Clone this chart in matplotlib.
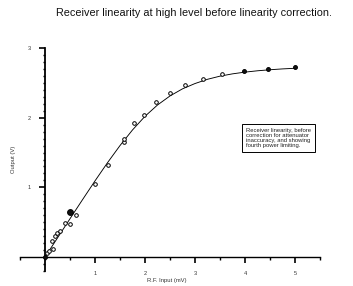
import numpy as np
import matplotlib
matplotlib.use("Agg")
import matplotlib.pyplot as plt
from matplotlib.ticker import MultipleLocator

plt.rcParams['font.family'] = ['Liberation Sans', 'DejaVu Sans']

# mért pontok (üres karika)
x_open = [0.03, 0.07, 0.15, 0.13, 0.19, 0.23, 0.29, 0.39, 0.49, 0.62, 0.99, 1.25,
          1.57, 1.58, 1.77, 1.98, 2.22, 2.5, 2.8, 3.15, 3.53]
y_open = [0.06, 0.086, 0.11, 0.23, 0.30, 0.34, 0.38, 0.49, 0.47, 0.60, 1.05, 1.32,
          1.65, 1.70, 1.92, 2.04, 2.22, 2.36, 2.47, 2.56, 2.63]

# átfedő pontok (teli karika)
x_fill = [0.0, 0.49, 3.97, 4.45, 5.0]
y_fill = [0.0, 0.645, 2.67, 2.70, 2.73]
s_fill = [2.8, 4.2, 2.8, 2.8, 2.8]

# illesztett görbe, leolvasva
x_curve = [0, 0.25, 0.5, 0.75, 1.0, 1.25, 1.5, 1.75, 2.0, 2.25, 2.5, 2.75,
           3.0, 3.25, 3.5, 3.75, 4.0, 4.25, 4.5, 4.75, 5.0]
y_curve = [0, 0.275, 0.55, 0.823, 1.093, 1.354, 1.60, 1.824, 2.02, 2.182, 2.312, 2.414,
           2.49, 2.551, 2.596, 2.629, 2.654, 2.673, 2.688, 2.70, 2.709]

fig = plt.figure(figsize=(3.53, 2.86), dpi=100)
ax = fig.add_axes([20/353, 15/286, 300/353, 223/286])

ax.plot(x_curve, y_curve, color="black", lw=0.65, zorder=2)
ax.plot(x_open, y_open, "o", ms=2.6, mfc="white", mec="black", mew=0.7, zorder=3)
for xf, yf, sf in zip(x_fill, y_fill, s_fill):
    ax.plot(xf, yf, "o", ms=sf, mfc="#111111", mec="black", mew=0.7, zorder=4)

ax.set_xlim(-0.5, 5.5)
ax.set_ylim(-0.2, 3.0)

ax.spines["left"].set_position(("data", 0))
ax.spines["bottom"].set_position(("data", 0))
ax.spines["top"].set_visible(False)
ax.spines["right"].set_visible(False)
ax.spines["left"].set_linewidth(1.3)
ax.spines["bottom"].set_linewidth(1.0)

ax.xaxis.set_major_locator(MultipleLocator(1))
ax.xaxis.set_minor_locator(MultipleLocator(0.5))
ax.yaxis.set_major_locator(MultipleLocator(1))
ax.yaxis.set_minor_locator(MultipleLocator(0.1))
ax.set_xticks([1, 2, 3, 4, 5])
ax.set_xticklabels(["1", "2", "3", "4", "5"])
ax.set_yticks([1, 2, 3])
ax.set_yticklabels(["1", "2", "3"])

ax.tick_params(axis="both", which="major", direction="out", length=4.2, width=1.2,
               labelsize=4, pad=6, labelcolor="#333333")
ax.tick_params(axis="both", which="minor", direction="out", length=1.8, width=1.0)

ax.set_xlabel("R.F. Input (mV)", fontsize=4.2, color="#333333")
ax.xaxis.set_label_coords(0.49, -0.03)
ax.set_ylabel("Output (V)", fontsize=4.2, color="#333333")
ax.yaxis.set_label_coords(-0.012, 0.5)

fig.text(0.55, 0.955, "Receiver linearity at high level before linearity correction.",
         ha="center", va="center", fontsize=7.8, color="#111111")

ax.text(4.02, 1.71, "Receiver linearity, before\ncorrection for attenuator\ninaccuracy, and showing\nfourth power limiting.",
        fontsize=4.2, ha="left", va="center", linespacing=1.0, color="#222222",
        bbox=dict(boxstyle="square,pad=0.7", fc="white", ec="black", lw=0.7))

fig.savefig("out.png", dpi=100)
